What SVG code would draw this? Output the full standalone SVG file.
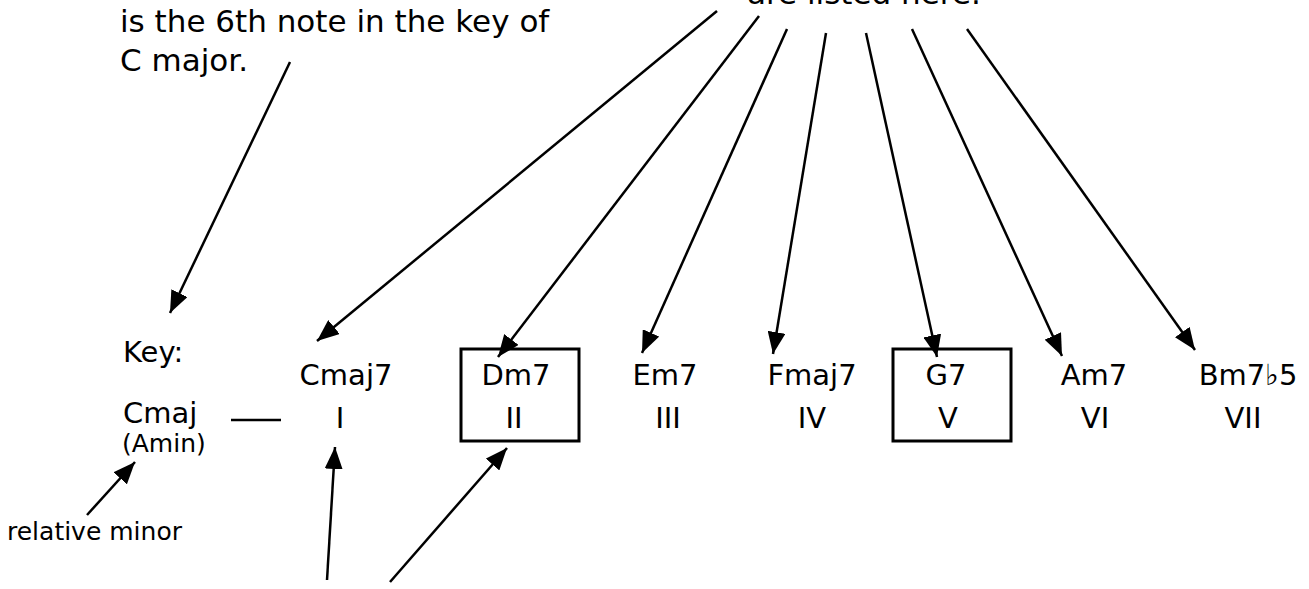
<svg xmlns="http://www.w3.org/2000/svg" width="1309" height="589" viewBox="0 0 1309 589">
<style>
text{font-family:"DejaVu Sans","Liberation Sans",sans-serif;fill:#000}
.big{font-size:31px}
.lab{font-size:29px;text-anchor:middle}
.sm{font-size:25px}
.conn line{stroke:#000;stroke-width:2.5;fill:none}
.box{fill:none;stroke:#000;stroke-width:3}
</style>
<defs>
<marker id="ah" markerUnits="userSpaceOnUse" markerWidth="24" markerHeight="18" refX="22" refY="9" orient="auto">
<path d="M0,0 L22,9 L0,18 Z" fill="#000"/>
</marker>
</defs>
<rect width="1309" height="589" fill="#fff"/>
<g id="note-text">
<text class="big" x="120" y="32">is the 6th note in the key of</text>
<text class="big" x="120" y="71">C major.</text>
</g>
<g id="listed-text">
<text class="big" x="747" y="4">are listed here.</text>
</g>
<g id="key">
<text class="big" x="123" y="362" style="font-size:29px">Key:</text>
<text x="123" y="423" style="font-size:29px">Cmaj</text>
<text class="sm" x="122" y="452">(Amin)</text>
</g>
<g id="relative-minor">
<text class="sm" x="7" y="540">relative minor</text>
</g>
<g id="chord-I"><text class="lab" x="346" y="385">Cmaj7</text><text class="lab" x="340" y="428">I</text></g>
<g id="chord-II"><rect class="box" x="461" y="349" width="118" height="92"/><text class="lab" x="516" y="385">Dm7</text><text class="lab" x="514" y="428">II</text></g>
<g id="chord-III"><text class="lab" x="665" y="385">Em7</text><text class="lab" x="668" y="428">III</text></g>
<g id="chord-IV"><text class="lab" x="812" y="385">Fmaj7</text><text class="lab" x="812" y="428">IV</text></g>
<g id="chord-V"><rect class="box" x="893" y="349" width="118" height="92"/><text class="lab" x="946" y="385">G7</text><text class="lab" x="948" y="428">V</text></g>
<g id="chord-VI"><text class="lab" x="1094" y="385">Am7</text><text class="lab" x="1095" y="428">VI</text></g>
<g id="chord-VII"><text class="lab" x="1248" y="385">Bm7♭5</text><text class="lab" x="1243" y="428">VII</text></g>
<g id="connectors" class="conn">
<line x1="290" y1="62" x2="170" y2="313" marker-end="url(#ah)"/>
<line x1="717" y1="11" x2="317" y2="341" marker-end="url(#ah)"/>
<line x1="759" y1="16" x2="498" y2="357" marker-end="url(#ah)"/>
<line x1="787" y1="29" x2="642" y2="353" marker-end="url(#ah)"/>
<line x1="826" y1="33" x2="773" y2="354" marker-end="url(#ah)"/>
<line x1="866" y1="33" x2="937" y2="357" marker-end="url(#ah)"/>
<line x1="912" y1="29" x2="1062" y2="356" marker-end="url(#ah)"/>
<line x1="967" y1="29" x2="1195" y2="350" marker-end="url(#ah)"/>
<line x1="87" y1="515" x2="135" y2="462" marker-end="url(#ah)"/>
<line x1="327" y1="580" x2="335" y2="447" marker-end="url(#ah)"/>
<line x1="390" y1="582" x2="507" y2="448" marker-end="url(#ah)"/>
<line x1="231" y1="420" x2="281" y2="420"/>
</g>
</svg>
